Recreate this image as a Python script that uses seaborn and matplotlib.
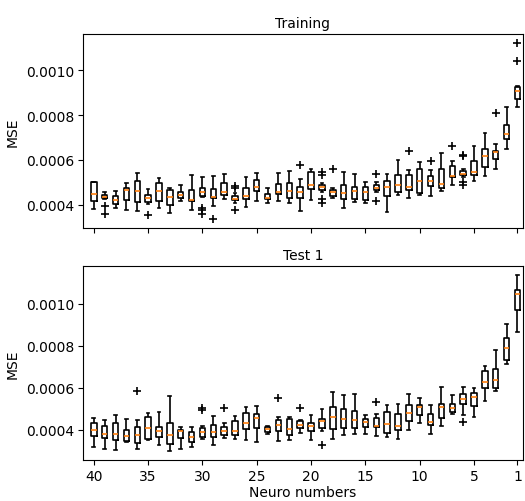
import numpy as np
import pandas as pd
import matplotlib
matplotlib.use("Agg")
import matplotlib.pyplot as plt
import seaborn as sns

# Neuro numbers shown left to right: 40 ... 1
neurons = list(range(40, 0, -1))

# ---- Training panel: per-box statistics (n = 40 ... 1)
train_whislo = [0.000381, 0.000424, 0.000384, 0.000378, 0.000373, 0.000405, 0.000384, 0.000363, 0.000416, 0.000378,
                0.000433, 0.000393, 0.000424, 0.000407, 0.000391, 0.000416, 0.000407, 0.000419, 0.000410, 0.000372,
                0.000422, 0.000455, 0.000430, 0.000384, 0.000413, 0.000407, 0.000455, 0.000369, 0.000445, 0.000430,
                0.000446, 0.000440, 0.000460, 0.000490, 0.000525, 0.000508, 0.000530, 0.000560, 0.000649, 0.000837]
train_q1 = [0.000415, 0.000429, 0.000403, 0.000422, 0.000411, 0.000411, 0.000418, 0.000399, 0.000431, 0.000416,
            0.000440, 0.000431, 0.000443, 0.000421, 0.000428, 0.000461, 0.000425, 0.000447, 0.000430, 0.000431,
            0.000470, 0.000465, 0.000439, 0.000424, 0.000427, 0.000421, 0.000466, 0.000440, 0.000455, 0.000464,
            0.000452, 0.000485, 0.000473, 0.000522, 0.000532, 0.000534, 0.000570, 0.000604, 0.000694, 0.000870]
train_med = [0.000447, 0.000436, 0.000422, 0.000467, 0.000460, 0.000431, 0.000460, 0.000433, 0.000444, 0.000422,
             0.000459, 0.000436, 0.000455, 0.000425, 0.000441, 0.000480, 0.000431, 0.000458, 0.000462, 0.000456,
             0.000489, 0.000480, 0.000459, 0.000453, 0.000461, 0.000458, 0.000476, 0.000478, 0.000490, 0.000478,
             0.000506, 0.000505, 0.000494, 0.000530, 0.000539, 0.000545, 0.000616, 0.000637, 0.000716, 0.000906]
train_q3 = [0.000500, 0.000443, 0.000440, 0.000476, 0.000506, 0.000445, 0.000497, 0.000464, 0.000458, 0.000467,
            0.000474, 0.000470, 0.000496, 0.000440, 0.000476, 0.000511, 0.000449, 0.000493, 0.000499, 0.000479,
            0.000547, 0.000489, 0.000464, 0.000487, 0.000481, 0.000481, 0.000490, 0.000505, 0.000531, 0.000531,
            0.000560, 0.000527, 0.000560, 0.000572, 0.000550, 0.000594, 0.000649, 0.000640, 0.000754, 0.000925]
train_whishi = [0.000503, 0.000455, 0.000461, 0.000496, 0.000542, 0.000470, 0.000521, 0.000473, 0.000490, 0.000532,
                0.000523, 0.000527, 0.000538, 0.000452, 0.000526, 0.000541, 0.000473, 0.000544, 0.000553, 0.000514,
                0.000561, 0.000499, 0.000476, 0.000547, 0.000536, 0.000504, 0.000500, 0.000536, 0.000601, 0.000557,
                0.000593, 0.000557, 0.000631, 0.000594, 0.000558, 0.000661, 0.000719, 0.000672, 0.000836, 0.000928]
train_fliers = [[], [0.000396, 0.000357], [], [], [], [0.000355], [], [], [], [],
                [0.000387, 0.000378, 0.000360], [0.000339], [], [0.000485, 0.000473, 0.000376], [], [], [], [], [], [0.000579],
                [], [0.000547, 0.000534, 0.000425, 0.000407], [0.000561], [], [], [], [0.000537, 0.000417], [], [], [0.000640],
                [], [0.000595], [], [0.000664], [0.000620, 0.000617, 0.000502, 0.000490], [], [], [0.000810], [], [0.001041, 0.001120]]

# ---- Test 1 panel
test_whislo = [0.000317, 0.000308, 0.000302, 0.000341, 0.000310, 0.000351, 0.000325, 0.000298, 0.000310, 0.000317,
               0.000354, 0.000325, 0.000362, 0.000354, 0.000350, 0.000343, 0.000378, 0.000346, 0.000350, 0.000382,
               0.000350, 0.000393, 0.000354, 0.000373, 0.000378, 0.000379, 0.000371, 0.000367, 0.000356, 0.000398,
               0.000432, 0.000379, 0.000419, 0.000474, 0.000471, 0.000462, 0.000538, 0.000582, 0.000713, 0.000865]
test_q1 = [0.000370, 0.000362, 0.000349, 0.000346, 0.000335, 0.000354, 0.000365, 0.000333, 0.000362, 0.000343,
           0.000366, 0.000366, 0.000376, 0.000374, 0.000401, 0.000406, 0.000387, 0.000395, 0.000373, 0.000408,
           0.000392, 0.000408, 0.000401, 0.000408, 0.000408, 0.000414, 0.000413, 0.000386, 0.000400, 0.000443,
           0.000471, 0.000424, 0.000457, 0.000486, 0.000522, 0.000511, 0.000598, 0.000598, 0.000730, 0.000971]
test_med = [0.000400, 0.000378, 0.000379, 0.000371, 0.000374, 0.000408, 0.000392, 0.000373, 0.000392, 0.000365,
            0.000389, 0.000387, 0.000395, 0.000395, 0.000430, 0.000454, 0.000405, 0.000420, 0.000401, 0.000424,
            0.000417, 0.000441, 0.000462, 0.000449, 0.000446, 0.000435, 0.000419, 0.000428, 0.000416, 0.000479,
            0.000508, 0.000438, 0.000506, 0.000505, 0.000547, 0.000554, 0.000627, 0.000635, 0.000789, 0.001047]
test_q3 = [0.000433, 0.000419, 0.000430, 0.000400, 0.000412, 0.000459, 0.000414, 0.000430, 0.000398, 0.000389,
           0.000409, 0.000420, 0.000412, 0.000441, 0.000481, 0.000476, 0.000412, 0.000446, 0.000452, 0.000443,
           0.000430, 0.000449, 0.000509, 0.000497, 0.000490, 0.000449, 0.000455, 0.000484, 0.000474, 0.000516,
           0.000519, 0.000476, 0.000524, 0.000522, 0.000570, 0.000574, 0.000681, 0.000689, 0.000836, 0.001066]
test_whishi = [0.000455, 0.000444, 0.000470, 0.000452, 0.000446, 0.000481, 0.000484, 0.000443, 0.000414, 0.000413,
               0.000417, 0.000465, 0.000430, 0.000465, 0.000508, 0.000512, 0.000417, 0.000462, 0.000462, 0.000446,
               0.000471, 0.000497, 0.000579, 0.000565, 0.000570, 0.000470, 0.000476, 0.000516, 0.000524, 0.000568,
               0.000551, 0.000516, 0.000601, 0.000563, 0.000601, 0.000598, 0.000703, 0.000779, 0.000903, 0.001135]
test_fliers = [[], [], [], [], [0.000584], [], [], [0.000560], [], [],
               [0.000505, 0.000494], [], [0.000503], [], [], [], [], [0.000552], [], [0.000502],
               [], [0.000327], [], [], [], [], [0.000533], [], [], [],
               [], [], [], [], [0.000438], [], [], [], [], []]


def samples(wl, q1, med, q3, wh, fl):
    lo = sorted(f for f in fl if f < q1)
    hi = sorted(f for f in fl if f > q3)
    k = max(len(lo), len(hi)) + 1
    return (lo + [wl] + [q1] * (k - len(lo)) + [med] * k + [q3] * k
            + [q3] * (k - 1 - len(hi)) + [wh] + hi)


def frame(wl, q1, med, q3, wh, fl):
    rows = []
    for i, n in enumerate(neurons):
        for v in samples(wl[i], q1[i], med[i], q3[i], wh[i], fl[i]):
            rows.append((n, v))
    return pd.DataFrame(rows, columns=["neurons", "mse"])


df_train = frame(train_whislo, train_q1, train_med, train_q3, train_whishi, train_fliers)
df_test = frame(test_whislo, test_q1, test_med, test_q3, test_whishi, test_fliers)

fig, (ax1, ax2) = plt.subplots(2, 1, sharex=True, figsize=(5.25, 5.02), dpi=100)
fig.subplots_adjust(left=0.158, right=0.996, top=0.931, bottom=0.081, hspace=0.196)

box_kw = dict(x="neurons", y="mse", native_scale=True, fill=False, color="black",
              width=0.5, whis=1.5, linewidth=1.2,
              medianprops=dict(color="#ff7f0e", linewidth=1.2),
              flierprops=dict(marker="+", markersize=6, markeredgecolor="black",
                              markerfacecolor="black", markeredgewidth=1.2))

sns.boxplot(data=df_train, ax=ax1, **box_kw)
sns.boxplot(data=df_test, ax=ax2, **box_kw)

for ax, title in [(ax1, "Training"), (ax2, "Test 1")]:
    ax.set_title(title, fontsize=10, pad=5)
    ax.set_ylabel("MSE", fontsize=10)
    ax.set_xlabel("")
    ax.set_yticks([0.0004, 0.0006, 0.0008, 0.0010])
    ax.set_xticks([40, 35, 30, 25, 20, 15, 10, 5, 1])
    ax.set_xlim(41, 0.5)
    ax.tick_params(labelsize=10, length=3.5, pad=3)

ax1.set_ylim(0.000297, 0.001163)
ax2.set_ylim(0.000254, 0.001179)
ax1.tick_params(labelbottom=False)
ax2.set_xticklabels(["40", "35", "30", "25", "20", "15", "10", "5", "1"])
ax2.set_xlabel("Neuro numbers", fontsize=10, labelpad=1.5)

fig.savefig("out.png", dpi=100)
